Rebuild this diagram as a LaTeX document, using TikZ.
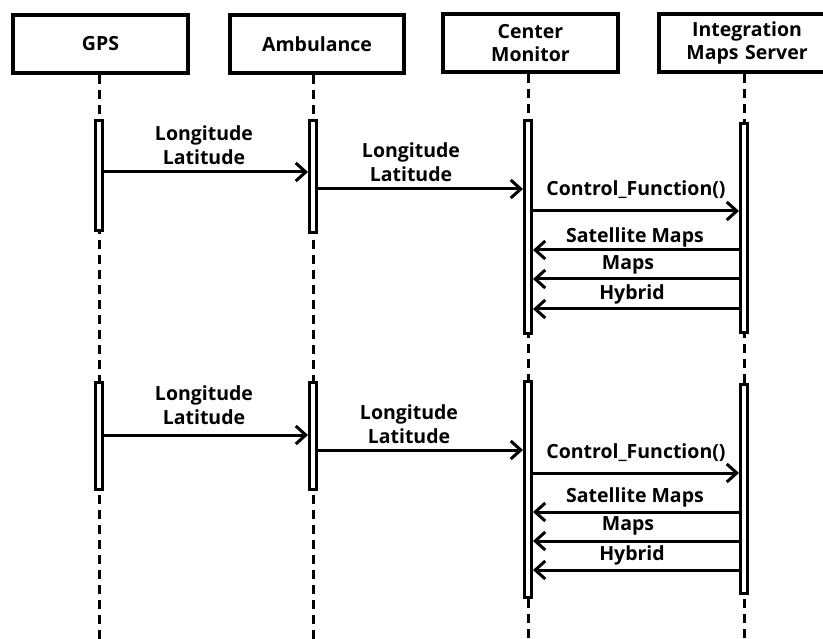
\documentclass[tikz,border=0pt]{standalone}
\usepackage{fontspec}
\setmainfont{Open Sans}
\usetikzlibrary{arrows.meta}
\begin{document}
\begin{tikzpicture}[x=1pt,y=-1pt,
  every node/.style={font=\fontsize{19.5}{24.5}\selectfont\bfseries},
  actor/.style={draw,line width=4pt,minimum width=#1,minimum height=58pt,inner sep=0pt,align=center,anchor=north west},
  bar/.style={draw,fill=white,line width=3pt,minimum width=7pt,inner sep=0pt,anchor=north},
  life/.style={line width=3pt,dash pattern=on 9pt off 6pt},
  msg/.style={line width=3pt,-{Straight Barb[length=10pt,width=18pt,line width=3pt]}},
  lbl/.style={align=center,inner sep=0pt}]
\useasboundingbox (0,0) rectangle (823,639);
% actors
\node[actor=175pt] (gps) at (11,13) {GPS};
\node[actor=174pt] (amb) at (228,13) {Ambulance};
\node[actor=175pt] (cen) at (441,12) {Center\\[-1pt]Monitor};
\node[actor=176pt,text width=166pt] (ims) at (657,12) {Integration\\[-1pt]Maps Server};
% lifeline ends
\coordinate (gpsE) at (99,639);
\coordinate (ambE) at (313,639);
\coordinate (cenE) at (528,639);
\coordinate (imsE) at (744,639);
\draw[life] (gps.south -| gpsE) -- (gpsE);
\draw[life] (amb.south -| ambE) -- (ambE);
\draw[life] (cen.south -| cenE) -- (cenE);
\draw[life] (ims.south -| imsE) -- (imsE);
% activation bars, group 1
\node[bar,minimum height=110pt] (g1) at (99,119) {};
\node[bar,minimum height=112pt] (a1) at (313,119) {};
\node[bar,minimum height=213pt] (c1) at (528,119) {};
\node[bar,minimum height=209pt] (i1) at (744,122) {};
% activation bars, group 2
\node[bar,minimum height=107pt] (g2) at (99,381) {};
\node[bar,minimum height=107pt] (a2) at (313,381) {};
\node[bar,minimum height=216pt] (c2) at (528,380) {};
\node[bar,minimum height=209pt] (i2) at (744,383) {};
% messages group 1
\draw[msg] (g1.east |- 0,172) -- (a1.west |- 0,172);
\draw[msg] (a1.east |- 0,189) -- (c1.west |- 0,189);
\draw[msg] (c1.east |- 0,211) -- (i1.west |- 0,211);
\draw[msg] (i1.west |- 0,250) -- (c1.east |- 0,250);
\draw[msg] (i1.west |- 0,279) -- (c1.east |- 0,279);
\draw[msg] (i1.west |- 0,309) -- (c1.east |- 0,309);
\node[lbl] (l1) at (204,145) {Longitude\\Latitude};
\node[lbl] (l2) at (411,162) {Longitude\\Latitude};
\node[lbl] (l3) at (636,190) {Control\_Function()};
\node[lbl] (l4) at (635,237) {Satellite Maps};
\node[lbl] (l5) at (628,265) {Maps};
\node[lbl] (l6) at (632,294) {Hybrid};
% messages group 2
\draw[msg] (g2.east |- 0,435) -- (a2.west |- 0,435);
\draw[msg] (a2.east |- 0,450) -- (c2.west |- 0,450);
\draw[msg] (c2.east |- 0,473) -- (i2.west |- 0,473);
\draw[msg] (i2.west |- 0,512) -- (c2.east |- 0,512);
\draw[msg] (i2.west |- 0,541) -- (c2.east |- 0,541);
\draw[msg] (i2.west |- 0,570) -- (c2.east |- 0,570);
\node[lbl] (m1) at (204,405) {Longitude\\Latitude};
\node[lbl] (m2) at (409,424) {Longitude\\Latitude};
\node[lbl] (m3) at (636,453) {Control\_Function()};
\node[lbl] (m4) at (635,497) {Satellite Maps};
\node[lbl] (m5) at (628,526) {Maps};
\node[lbl] (m6) at (632,555) {Hybrid};
\end{tikzpicture}
\end{document}
